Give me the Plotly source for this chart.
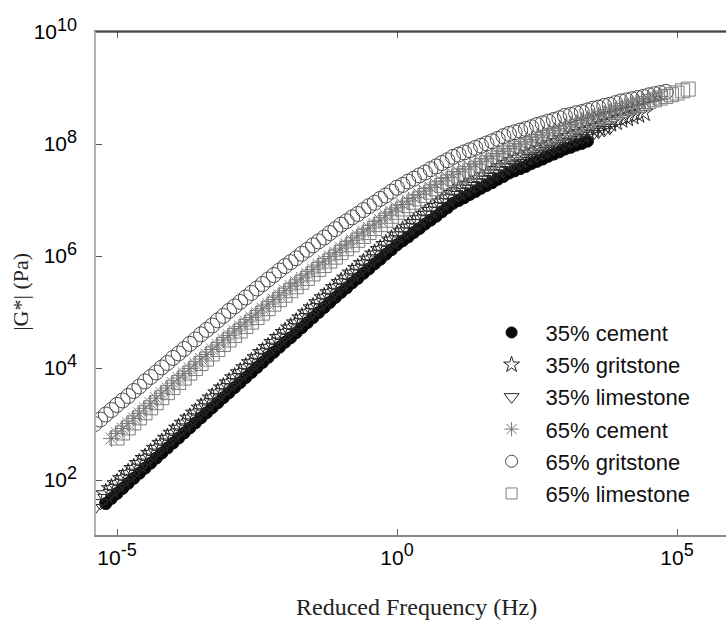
import plotly.graph_objects as go

# log10 reduced frequency (Hz) and log10 |G*| (Pa)
c35_x = [-5.2,-5.1,-5.0,-4.9,-4.8,-4.7,-4.6,-4.5,-4.4,-4.3,
         -4.2,-4.1,-4.0,-3.9,-3.8,-3.7,-3.6,-3.5,-3.4,-3.3,
         -3.2,-3.1,-3.0,-2.9,-2.8,-2.7,-2.6,-2.5,-2.4,-2.3,
         -2.2,-2.1,-2.0,-1.9,-1.8,-1.7,-1.6,-1.5,-1.4,-1.3,
         -1.2,-1.1,-1.0,-0.9,-0.8,-0.7,-0.6,-0.5,-0.4,-0.3,
         -0.2,-0.1,0.0,0.1,0.2,0.3,0.4,0.5,0.6,0.7,
         0.8,0.9,1.0,1.1,1.2,1.3,1.4,1.5,1.6,1.7,
         1.8,1.9,2.0,2.1,2.2,2.3,2.4,2.5,2.6,2.7,
         2.8,2.9,3.0,3.1,3.2,3.3,3.4]
c35_y = [1.58,1.67,1.76,1.85,1.94,2.03,2.12,2.21,2.30,2.39,
         2.48,2.57,2.66,2.75,2.84,2.93,3.02,3.11,3.20,3.29,
         3.38,3.47,3.56,3.65,3.74,3.83,3.92,4.01,4.10,4.19,
         4.28,4.37,4.46,4.54,4.63,4.72,4.81,4.90,4.99,5.08,
         5.17,5.26,5.35,5.43,5.52,5.60,5.69,5.77,5.86,5.94,
         6.03,6.11,6.20,6.27,6.34,6.42,6.49,6.57,6.64,6.71,
         6.79,6.86,6.94,6.99,7.04,7.10,7.15,7.21,7.26,7.31,
         7.37,7.42,7.48,7.52,7.56,7.60,7.65,7.69,7.73,7.78,
         7.82,7.86,7.91,7.94,7.98,8.01,8.05]

g35_x = [-5.2,-5.1,-5.0,-4.9,-4.8,-4.7,-4.6,-4.5,-4.4,-4.3,
         -4.2,-4.1,-4.0,-3.9,-3.8,-3.7,-3.6,-3.5,-3.4,-3.3,
         -3.2,-3.1,-3.0,-2.9,-2.8,-2.7,-2.6,-2.5,-2.4,-2.3,
         -2.2,-2.1,-2.0,-1.9,-1.8,-1.7,-1.6,-1.5,-1.4,-1.3,
         -1.2,-1.1,-1.0,-0.9,-0.8,-0.7,-0.6,-0.5,-0.4,-0.3,
         -0.2,-0.1,0.0,0.1,0.2,0.3,0.4,0.5,0.6,0.7,
         0.8,0.9,1.0,1.1,1.2,1.3,1.4,1.5,1.6,1.7,
         1.8,1.9,2.0,2.1,2.2,2.3,2.4,2.5,2.6,2.7,
         2.8,2.9,3.0,3.1,3.2,3.3,3.4,3.5,3.6,3.7,
         3.8,3.9,4.0,4.1,4.2,4.3,4.4]
g35_y = [1.75,1.84,1.93,2.02,2.11,2.20,2.29,2.38,2.47,2.56,
         2.65,2.74,2.83,2.92,3.01,3.10,3.19,3.28,3.37,3.46,
         3.55,3.64,3.73,3.82,3.91,4.00,4.09,4.18,4.27,4.36,
         4.45,4.54,4.63,4.71,4.80,4.89,4.98,5.07,5.16,5.25,
         5.34,5.43,5.52,5.60,5.69,5.77,5.86,5.94,6.03,6.11,
         6.20,6.28,6.37,6.44,6.51,6.59,6.66,6.74,6.81,6.88,
         6.96,7.03,7.11,7.16,7.21,7.27,7.32,7.38,7.43,7.48,
         7.54,7.59,7.65,7.70,7.74,7.78,7.83,7.87,7.91,7.96,
         8.00,8.04,8.09,8.13,8.17,8.20,8.24,8.27,8.31,8.34,
         8.38,8.41,8.45,8.48,8.51,8.54,8.57]

l35_x = [-5.4,-5.3,
         -5.2,-5.1,-5.0,-4.9,-4.8,-4.7,-4.6,-4.5,-4.4,-4.3,
         -4.2,-4.1,-4.0,-3.9,-3.8,-3.7,-3.6,-3.5,-3.4,-3.3,
         -3.2,-3.1,-3.0,-2.9,-2.8,-2.7,-2.6,-2.5,-2.4,-2.3,
         -2.2,-2.1,-2.0,-1.9,-1.8,-1.7,-1.6,-1.5,-1.4,-1.3,
         -1.2,-1.1,-1.0,-0.9,-0.8,-0.7,-0.6,-0.5,-0.4,-0.3,
         -0.2,-0.1,0.0,0.1,0.2,0.3,0.4,0.5,0.6,0.7,
         0.8,0.9,1.0,1.1,1.2,1.3,1.4,1.5,1.6,1.7,
         1.8,1.9,2.0,2.1,2.2,2.3,2.4,2.5,2.6,2.7,
         2.8,2.9,3.0,3.1,3.2,3.3,3.4,
         3.5,3.6,3.7,3.8]
l35_y = [1.50,1.59,
         1.68,1.77,1.86,1.95,2.04,2.13,2.22,2.31,2.40,2.49,
         2.58,2.67,2.76,2.85,2.94,3.03,3.12,3.21,3.30,3.39,
         3.48,3.57,3.66,3.75,3.84,3.93,4.02,4.11,4.20,4.29,
         4.38,4.47,4.56,4.64,4.73,4.82,4.91,5.00,5.09,5.18,
         5.27,5.36,5.45,5.53,5.62,5.70,5.79,5.87,5.96,6.04,
         6.13,6.21,6.30,6.37,6.44,6.52,6.59,6.67,6.74,6.81,
         6.89,6.96,7.04,7.09,7.14,7.20,7.25,7.31,7.36,7.41,
         7.47,7.52,7.58,7.62,7.66,7.70,7.75,7.79,7.83,7.88,
         7.92,7.96,8.01,8.04,8.08,8.11,8.15,
         8.18,8.22,8.25,8.29]

c65_x = [-5.1,-5.0,-4.9,-4.8,-4.7,-4.6,-4.5,-4.4,-4.3,-4.2,
         -4.1,-4.0,-3.9,-3.8,-3.7,-3.6,-3.5,-3.4,-3.3,-3.2,
         -3.1,-3.0,-2.9,-2.8,-2.7,-2.6,-2.5,-2.4,-2.3,-2.2,
         -2.1,-2.0,-1.9,-1.8,-1.7,-1.6,-1.5,-1.4,-1.3,-1.2,
         -1.1,-1.0,-0.9,-0.8,-0.7,-0.6,-0.5,-0.4,-0.3,-0.2,
         -0.1,0.0,0.1,0.2,0.3,0.4,0.5,0.6,0.7,0.8,
         0.9,1.0,1.1,1.2,1.3,1.4,1.5,1.6,1.7,1.8,
         1.9,2.0,2.1,2.2,2.3,2.4,2.5,2.6,2.7,2.8,
         2.9,3.0,3.1,3.2,3.3,3.4,3.5,3.6,3.7,3.8,
         3.9,4.0,4.1,4.2,4.3,4.4,4.5,4.6,4.7]
c65_y = [2.74,2.83,2.92,3.01,3.10,3.19,3.28,3.37,3.46,3.55,
         3.64,3.73,3.82,3.90,3.99,4.07,4.16,4.24,4.33,4.41,
         4.50,4.58,4.66,4.74,4.82,4.90,4.98,5.06,5.14,5.22,
         5.30,5.38,5.46,5.53,5.61,5.68,5.76,5.84,5.91,5.99,
         6.06,6.14,6.21,6.28,6.36,6.43,6.50,6.57,6.64,6.72,
         6.79,6.86,6.92,6.98,7.04,7.10,7.16,7.22,7.28,7.34,
         7.40,7.46,7.51,7.55,7.60,7.64,7.69,7.74,7.78,7.83,
         7.87,7.92,7.96,8.00,8.04,8.08,8.12,8.16,8.20,8.24,
         8.28,8.32,8.35,8.38,8.42,8.45,8.48,8.51,8.54,8.58,
         8.61,8.64,8.67,8.70,8.73,8.76,8.79,8.82,8.85]

g65_x = [-5.4,-5.3,-5.2,-5.1,-5.0,-4.9,-4.8,-4.7,-4.6,-4.5,
         -4.4,-4.3,-4.2,-4.1,-4.0,-3.9,-3.8,-3.7,-3.6,-3.5,
         -3.4,-3.3,-3.2,-3.1,-3.0,-2.9,-2.8,-2.7,-2.6,-2.5,
         -2.4,-2.3,-2.2,-2.1,-2.0,-1.9,-1.8,-1.7,-1.6,-1.5,
         -1.4,-1.3,-1.2,-1.1,-1.0,-0.9,-0.8,-0.7,-0.6,-0.5,
         -0.4,-0.3,-0.2,-0.1,0.0,0.1,0.2,0.3,0.4,0.5,
         0.6,0.7,0.8,0.9,1.0,1.1,1.2,1.3,1.4,1.5,
         1.6,1.7,1.8,1.9,2.0,2.1,2.2,2.3,2.4,2.5,
         2.6,2.7,2.8,2.9,3.0,3.1,3.2,3.3,3.4,3.5,
         3.6,3.7,3.8,3.9,4.0,4.1,4.2,4.3,4.4,4.5,
         4.6,4.7,4.8]
g65_y = [3.00,3.08,3.17,3.25,3.34,3.42,3.50,3.59,3.67,3.76,
         3.84,3.92,4.01,4.09,4.18,4.26,4.34,4.43,4.51,4.60,
         4.68,4.76,4.85,4.93,5.02,5.10,5.18,5.26,5.34,5.42,
         5.50,5.58,5.66,5.74,5.82,5.89,5.96,6.04,6.11,6.19,
         6.26,6.33,6.41,6.48,6.56,6.62,6.69,6.75,6.82,6.89,
         6.95,7.02,7.08,7.15,7.22,7.27,7.33,7.38,7.44,7.49,
         7.55,7.60,7.66,7.71,7.77,7.81,7.85,7.89,7.93,7.97,
         8.01,8.05,8.09,8.14,8.18,8.21,8.24,8.27,8.30,8.34,
         8.37,8.40,8.43,8.46,8.50,8.52,8.55,8.57,8.60,8.63,
         8.65,8.68,8.70,8.73,8.76,8.78,8.80,8.82,8.84,8.87,
         8.89,8.91,8.93]

l65_x = [-5.0,-4.9,-4.8,-4.7,-4.6,-4.5,-4.4,-4.3,-4.2,-4.1,
         -4.0,-3.9,-3.8,-3.7,-3.6,-3.5,-3.4,-3.3,-3.2,-3.1,
         -3.0,-2.9,-2.8,-2.7,-2.6,-2.5,-2.4,-2.3,-2.2,-2.1,
         -2.0,-1.9,-1.8,-1.7,-1.6,-1.5,-1.4,-1.3,-1.2,-1.1,
         -1.0,-0.9,-0.8,-0.7,-0.6,-0.5,-0.4,-0.3,-0.2,-0.1,
         0.0,0.1,0.2,0.3,0.4,0.5,0.6,0.7,0.8,0.9,
         1.0,1.1,1.2,1.3,1.4,1.5,1.6,1.7,1.8,1.9,
         2.0,2.1,2.2,2.3,2.4,2.5,2.6,2.7,2.8,2.9,
         3.0,3.1,3.2,3.3,3.4,3.5,3.6,3.7,3.8,3.9,
         4.0,4.1,4.2,4.3,4.4,4.5,4.6,4.7,4.8,4.9,
         5.0,5.1,5.2]
l65_y = [2.75,2.84,2.93,3.02,3.11,3.20,3.29,3.38,3.47,3.56,
         3.65,3.74,3.82,3.91,3.99,4.08,4.16,4.25,4.33,4.42,
         4.50,4.58,4.66,4.74,4.82,4.90,4.98,5.06,5.14,5.22,
         5.30,5.38,5.45,5.53,5.60,5.68,5.76,5.83,5.91,5.98,
         6.06,6.13,6.20,6.28,6.35,6.42,6.49,6.56,6.64,6.71,
         6.78,6.84,6.90,6.96,7.02,7.08,7.14,7.20,7.26,7.32,
         7.38,7.43,7.47,7.52,7.56,7.61,7.66,7.70,7.75,7.79,
         7.84,7.88,7.92,7.96,8.00,8.04,8.08,8.12,8.16,8.20,
         8.24,8.28,8.32,8.35,8.39,8.42,8.46,8.49,8.53,8.56,
         8.60,8.63,8.66,8.69,8.72,8.76,8.79,8.82,8.85,8.88,
         8.91,8.95,8.98]

names = ["35% cement", "35% gritstone", "35% limestone",
         "65% cement", "65% gritstone", "65% limestone"]

x_tick_exp = ["-5", "0", "5"]
y_tick_exp = ["2", "4", "6", "8", "10"]

# (symbol, colour, plot size, legend size)
styles = [
    ("circle", "#080808", 12, 11),
    ("star-open", "#222222", 15, 12),
    ("triangle-down-open", "#2c2c2c", 14, 13),
    ("asterisk-open", "#777777", 14, 12),
    ("circle-open", "#4a4a4a", 15, 12),
    ("square-open", "#7d7d7d", 14, 11),
]
data = [(c35_x, c35_y), (g35_x, g35_y), (l35_x, l35_y),
        (c65_x, c65_y), (g65_x, g65_y), (l65_x, l65_y)]

fig = go.Figure()
for (xs, ys), (sym, col, sz, lsz), nm in zip(data, styles, names):
    fig.add_trace(go.Scatter(
        x=[10 ** v for v in xs], y=[10 ** v for v in ys],
        mode="markers", name=nm, showlegend=False, legendgroup=nm,
        marker=dict(symbol=sym, size=sz, color=col, line=dict(color=col, width=1)),
    ))
# legend entries (smaller symbols, as in the reference key)
for (sym, col, sz, lsz), nm in zip(styles, names):
    fig.add_trace(go.Scatter(
        x=[None], y=[None], mode="markers", name=nm, legendgroup=nm,
        marker=dict(symbol=sym, size=lsz, color=col, line=dict(color=col, width=1)),
    ))

sans = "Liberation Sans, Arial, Helvetica, sans-serif"
serif = "Liberation Serif, Times New Roman, serif"


def power_label(e):
    return "10<sup><span style='font-size:18px'>%s</span></sup>" % e


fig.update_layout(
    width=726, height=621,
    margin=dict(l=96, r=0, t=32, b=86),
    paper_bgcolor="white", plot_bgcolor="white",
    showlegend=True,
    legend=dict(x=0.6057, y=0.444, xanchor="left", yanchor="top",
                font=dict(family=sans, size=22, color="#111111"),
                bgcolor="rgba(0,0,0,0)", tracegroupgap=0.6, itemwidth=58),
    font=dict(family=sans, color="black"),
)

fig.update_xaxes(
    type="log", range=[-5.375, 5.875],
    tickvals=[10 ** float(e) for e in x_tick_exp],
    ticktext=[power_label(e) for e in x_tick_exp],
    ticks="inside", ticklen=6, tickcolor="#666666", tickwidth=1,
    showline=True, linecolor="#8a8a8a", linewidth=1.5, mirror="ticks",
    showgrid=False, zeroline=False,
    tickfont=dict(family=sans, size=21, color="black"),
    ticklabelstandoff=3,
)
fig.update_yaxes(
    type="log", range=[1.018, 10],
    tickvals=[10 ** float(e) for e in y_tick_exp],
    ticktext=[power_label(e) for e in y_tick_exp],
    ticks="inside", ticklen=6, tickcolor="#555555", tickwidth=1,
    showline=True, linecolor="#b4b4b4", linewidth=1.5,
    showgrid=False, zeroline=False,
    tickfont=dict(family=sans, size=21, color="black"),
    ticklabelstandoff=13,
)

fig.add_shape(type="line", xref="paper", yref="paper", x0=0, x1=1, y0=1, y1=1,
              line=dict(color="black", width=1))

fig.add_annotation(text="Reduced Frequency (Hz)", xref="paper", yref="paper",
                   x=0.508, y=-0.143, xanchor="center", yanchor="middle",
                   showarrow=False,
                   font=dict(family=serif, size=24, color="#222222"))
fig.add_annotation(text="|G*| (Pa)", xref="paper", yref="paper",
                   x=-0.121, y=0.483, xanchor="center", yanchor="middle",
                   showarrow=False, textangle=-90,
                   font=dict(family=serif, size=22, color="#222222"))

fig.write_html("out.html", config={"displayModeBar": False},
               post_script="document.body.style.margin='0';document.body.style.padding='0';")
